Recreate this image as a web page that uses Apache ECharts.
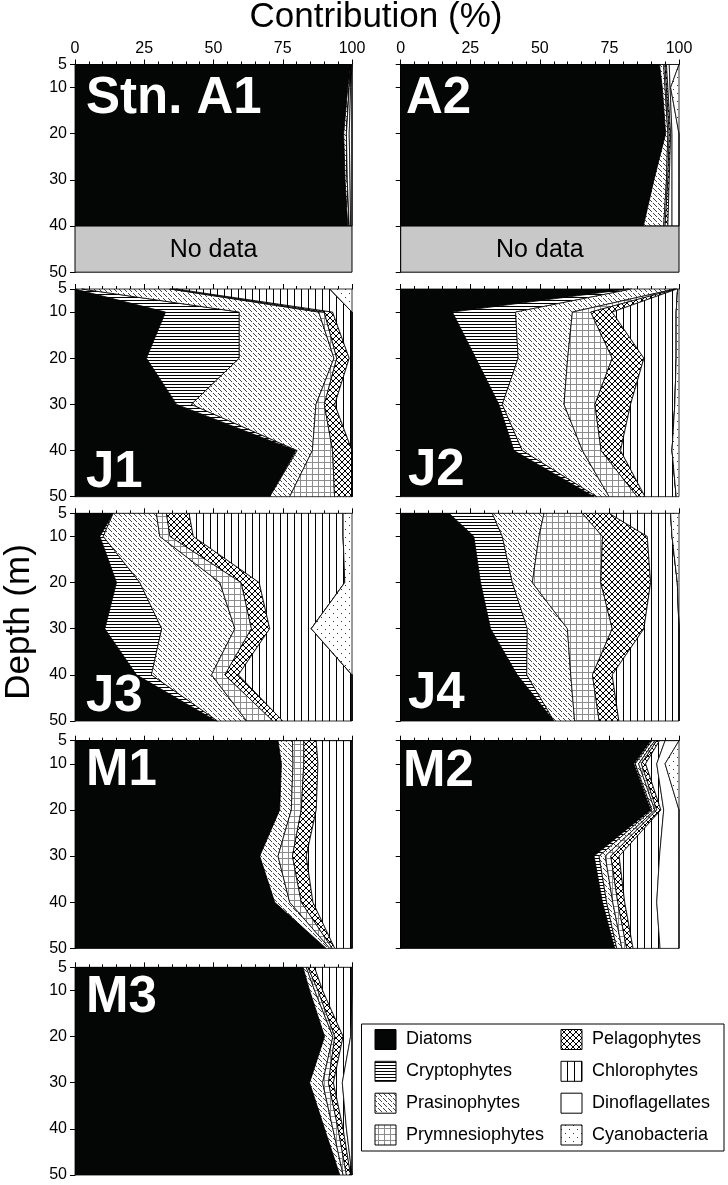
<!DOCTYPE html>
<html>
<head>
<meta charset="utf-8">
<script src="https://cdn.jsdelivr.net/npm/echarts@6/dist/echarts.min.js"></script>
<style>
  html, body { margin: 0; padding: 0; background: #fff; }
  #box { width: 728px; height: 1185px; }
</style>
</head>
<body>
<div id="box"></div>
<script>
// depths (m)
var depths = [5, 10, 20, 30, 40, 50];
var depthsA = [5, 10, 20, 30, 40];   // A stations: no data below 40 m
var xTicks = [0, 25, 50, 75, 100];
var yTicks = [5, 10, 20, 30, 40, 50];

var groups = ['Diatoms', 'Cryptophytes', 'Prasinophytes', 'Prymnesiophytes',
              'Pelagophytes', 'Chlorophytes', 'Dinoflagellates', 'Cyanobacteria'];

// contribution (%) per group, rows in the order of groups, columns = depths
var A1 = [
  [99.5, 98.5, 97, 97.5, 98.5],
  [0, 0, 0, 0, 0],
  [0.2, 0.5, 1, 0.8, 0.5],
  [0, 0, 0, 0, 0],
  [0, 0, 0, 0, 0],
  [0.3, 0.5, 1, 1, 0.5],
  [0, 0.5, 1, 0.7, 0.5],
  [0, 0, 0, 0, 0]
];
var A2 = [
  [93, 94, 95.2, 91, 87.2],
  [0, 0, 0, 0, 0],
  [1.5, 1, 0.8, 4.5, 7.3],
  [0.5, 0.5, 0.5, 0.5, 0.5],
  [0.5, 0.5, 0.5, 0.5, 1],
  [1, 0.8, 0.5, 1, 1.5],
  [3.5, 0.2, 2.5, 2.5, 2.5],
  [0, 3, 0, 0, 0]
];
var J1 = [
  [0, 32.7, 25.8, 36.7, 79.7, 70.3],
  [2.4, 26.6, 33.5, 5.3, 0.5, 0],
  [31.9, 28.7, 34.2, 45, 5.5, 7.2],
  [1.2, 2, 1, 3, 7.3, 16.2],
  [1, 3, 4.5, 3.8, 7, 6.3],
  [55.5, 7, 1, 6.2, 0, 0],
  [0, 0, 0, 0, 0, 0],
  [8, 0, 0, 0, 0, 0]
];
var J2 = [
  [82, 18.6, 27, 35.3, 40.7, 69.5],
  [1, 22.7, 15.2, 1.2, 3, 1],
  [15.5, 20.4, 17.8, 22.2, 21.6, 4.4],
  [0.5, 6.6, 16, 11.1, 6.7, 10.1],
  [0.3, 7.7, 11.4, 12.8, 7, 2.8],
  [0.2, 23, 11.6, 15.9, 18.5, 11.2],
  [0, 0, 0, 0, 0, 0],
  [0.5, 1, 1, 1.5, 2.5, 1]
];
var J3 = [
  [13.8, 9, 15, 10.8, 22.2, 51],
  [0, 1.2, 8.4, 20.5, 5.4, 0.5],
  [15.6, 20.4, 28.9, 26.4, 21.7, 10.5],
  [3.6, 3.7, 7.7, 6, 4.8, 9.5],
  [8.2, 8.4, 6.5, 6.6, 4.9, 3.5],
  [55.6, 54.1, 30.9, 15, 41, 25],
  [0, 0, 0, 0, 0, 0],
  [3.2, 3.2, 2.6, 14.7, 0, 0]
];
var J4 = [
  [17.4, 26.3, 28.7, 32.3, 41.9, 55.1],
  [15.5, 10.2, 11.4, 13.2, 3.4, 0],
  [18.6, 13.2, 7.2, 14.4, 15.8, 7.4],
  [13.8, 22.8, 24.6, 16.1, 7.8, 8.8],
  [9.6, 16.1, 17.9, 11.4, 7.1, 7.1],
  [22.1, 8.9, 9.6, 12.6, 24, 21.6],
  [0, 0, 0, 0, 0, 0],
  [3, 2.5, 0.6, 0, 0, 0]
];
var M1 = [
  [73.3, 74.5, 73.9, 66.7, 72.1, 90.7],
  [0, 0, 0, 0, 0, 0],
  [5.2, 4.2, 4.2, 6.6, 5.4, 1.3],
  [4.1, 3.9, 3.6, 5.2, 4.2, 0.9],
  [4.5, 5.1, 5.4, 5, 4.2, 0.9],
  [12.9, 12.3, 12.9, 16.5, 14.1, 6.2],
  [0, 0, 0, 0, 0, 0],
  [0, 0, 0, 0, 0, 0]
];
var M2 = [
  [89.8, 83.8, 89.8, 69.5, 72.5, 76.9],
  [0.5, 0.5, 0.5, 1.8, 1.5, 0.7],
  [1, 1.2, 1, 2.2, 2.2, 1.9],
  [0.7, 1, 0.7, 2, 1.8, 1.7],
  [1, 1.5, 1.5, 3, 2.5, 2.3],
  [2, 4, 1, 14.5, 11.5, 9.7],
  [5, 3, 5.5, 7, 8, 6.8],
  [0, 5, 0, 0, 0, 0]
];
var M3 = [
  [82.3, 84.7, 90.1, 84.7, 90.1, 95.6],
  [0, 0, 0, 0, 0, 0],
  [1.2, 1.8, 3, 4.7, 3, 1.2],
  [0.6, 1.2, 0.7, 2.1, 1.9, 1.2],
  [2.4, 1.7, 3, 1.8, 1.8, 1.5],
  [13.5, 10.6, 2.7, 3.2, 1.2, 0.5],
  [0, 0, 0.5, 3.5, 2, 0],
  [0, 0, 0, 0, 0, 0]
];

// 面板布局
var colX = [75, 400.7];
var colW = [277, 278.3];
var rowY = [64.5, 289, 513.3, 740.7, 967.3];
var rowH = 207.7;

var panels = [
  { name: 'Stn. A1', vals: A1, dep: depthsA, noData: true, col: 0, row: 0, lx: 86, ly: 98.5 },
  { name: 'A2', vals: A2, dep: depthsA, noData: true, col: 1, row: 0, lx: 406, ly: 98.5 },
  { name: 'J1', vals: J1, dep: depths, col: 0, row: 1, lx: 86, ly: 472.5 },
  { name: 'J2', vals: J2, dep: depths, col: 1, row: 1, lx: 408, ly: 471 },
  { name: 'J3', vals: J3, dep: depths, col: 0, row: 2, lx: 86, ly: 697 },
  { name: 'J4', vals: J4, dep: depths, col: 1, row: 2, lx: 408, ly: 694 },
  { name: 'M1', vals: M1, dep: depths, col: 0, row: 3, lx: 86, ly: 771 },
  { name: 'M2', vals: M2, dep: depths, col: 1, row: 3, lx: 403, ly: 771.5 },
  { name: 'M3', vals: M3, dep: depths, col: 0, row: 4, lx: 86, ly: 997.5 }
];

var FONT = '"Liberation Sans", Arial, Helvetica, sans-serif';

// 填充图案
function tile(w, h, draw) {
  var c = document.createElement('canvas');
  c.width = w; c.height = h;
  var g = c.getContext('2d');
  g.fillStyle = '#fff';
  g.fillRect(0, 0, w, h);
  draw(g);
  return { image: c, repeat: 'repeat' };
}
var fills = [
  '#040605',
  tile(4, 3, function (g) { g.fillStyle = '#000'; g.fillRect(0, 0, 4, 1); }),
  tile(5, 5, function (g) { g.fillStyle = '#444'; for (var k = 0; k < 5; k++) { if (k !== 2) g.fillRect(k, k, 1, 1); } }),
  tile(6, 6, function (g) { g.fillStyle = '#8c8c8c'; g.fillRect(0, 0, 6, 1); g.fillRect(0, 0, 1, 6); }),
  tile(6, 6, function (g) { g.fillStyle = '#000'; for (var k = 0; k < 6; k++) { g.fillRect(k, k, 1, 1); g.fillRect(5 - k, k, 1, 1); } }),
  tile(7, 4, function (g) { g.fillStyle = '#000'; g.fillRect(0, 0, 1, 4); }),
  '#fff',
  tile(8, 8, function (g) { g.fillStyle = '#333'; g.fillRect(1, 1, 1, 1); g.fillRect(5, 5, 1, 1); })
];

function stackRender(vals, dep) {
  var cum = [];
  var run = dep.map(function () { return 0; });
  vals.forEach(function (row) {
    var lo = run.slice();
    run = run.map(function (v, k) { return v + row[k]; });
    cum.push([lo, run.slice()]);
  });
  return function (params, api) {
    var c = cum[params.dataIndex];
    var pts = [];
    var k;
    for (k = 0; k < dep.length; k++) pts.push(api.coord([c[1][k], dep[k]]));
    for (k = dep.length - 1; k >= 0; k--) pts.push(api.coord([c[0][k], dep[k]]));
    return {
      type: 'polygon',
      shape: { points: pts },
      style: { fill: fills[params.dataIndex], stroke: '#000', lineWidth: 0.8 }
    };
  };
}

function noDataRender(params, api) {
  var p0 = api.coord([0, 40]);
  var p1 = api.coord([100, 50]);
  return {
    type: 'group',
    children: [
      { type: 'rect', shape: { x: p0[0], y: p0[1], width: p1[0] - p0[0], height: p1[1] - p0[1] },
        style: { fill: '#c8c8c8', stroke: '#000', lineWidth: 1 } },
      { type: 'text', x: (p0[0] + p1[0]) / 2, y: (p0[1] + p1[1]) / 2 + 1,
        style: { text: 'No data', font: '25px ' + FONT, fill: '#000', align: 'center', verticalAlign: 'middle' } }
    ]
  };
}

var grid = [], xAxis = [], yAxis = [], series = [], graphic = [];

panels.forEach(function (p, i) {
  grid.push({ left: colX[p.col], top: rowY[p.row], width: colW[p.col], height: rowH, outerBoundsMode: 'none' });
  xAxis.push({
    gridIndex: i, type: 'value', position: 'top', min: 0, max: 100, interval: 25,
    axisLine: { show: true, lineStyle: { color: '#000', width: 1 } },
    axisTick: { show: true, inside: false, length: 5, lineStyle: { color: '#000' } },
    minorTick: { show: true, splitNumber: 5, length: 3, lineStyle: { color: '#000' } },
    axisLabel: { show: p.row === 0, color: '#000', fontSize: 16, fontFamily: FONT, margin: 8 },
    splitLine: { show: false }
  });
  yAxis.push({
    gridIndex: i, type: 'value', inverse: true, min: 5, max: 50,
    axisLine: { show: true, lineStyle: { color: '#000', width: 1 } },
    axisTick: { show: true, inside: false, length: 5, customValues: yTicks, lineStyle: { color: '#000' } },
    axisLabel: { show: p.col === 0, customValues: yTicks, color: '#000', fontSize: 16, fontFamily: FONT, margin: 8 },
    splitLine: { show: false }
  });
  series.push({
    type: 'custom', name: p.name, xAxisIndex: i, yAxisIndex: i,
    renderItem: stackRender(p.vals, p.dep),
    data: groups.map(function (g, k) { return [k]; }),
    silent: true
  });
  if (p.noData) {
    series.push({
      type: 'custom', xAxisIndex: i, yAxisIndex: i,
      renderItem: noDataRender, data: [[0]], silent: true
    });
  }
  graphic.push({
    type: 'text', x: p.lx, y: p.ly, z: 100,
    style: { text: p.name, font: 'bold 51px ' + FONT, fill: '#fff', align: 'left', verticalAlign: 'middle' }
  });
});

// 标题
graphic.push({ type: 'text', x: 376, y: 17.5,
  style: { text: 'Contribution (%)', font: '35px ' + FONT, fill: '#000', align: 'center', verticalAlign: 'middle' } });
graphic.push({ type: 'text', x: 19, y: 622, rotation: Math.PI / 2,
  style: { text: 'Depth (m)', font: '35px ' + FONT, fill: '#000', align: 'center', verticalAlign: 'middle' } });

// 图例
graphic.push({ type: 'rect', shape: { x: 361.5, y: 1024, width: 362.5, height: 127 },
  style: { fill: '#fff', stroke: '#000', lineWidth: 1 } });
var legX = [375, 561], legY = [1029.5, 1061.3, 1093.2, 1125];
groups.forEach(function (g, k) {
  var c = Math.floor(k / 4), r = k % 4;
  graphic.push({ type: 'rect', shape: { x: legX[c], y: legY[r], width: 21, height: 20 },
    style: { fill: fills[k], stroke: '#000', lineWidth: 1 } });
  graphic.push({ type: 'text', x: legX[c] + 31, y: legY[r] + 10,
    style: { text: g, font: '18px ' + FONT, fill: '#000', align: 'left', verticalAlign: 'middle' } });
});

var myChart = echarts.init(document.getElementById('box'), null, { renderer: 'canvas' });
myChart.setOption({
  animation: false,
  backgroundColor: '#fff',
  grid: grid,
  xAxis: xAxis,
  yAxis: yAxis,
  series: series,
  graphic: graphic
});
</script>
</body>
</html>
